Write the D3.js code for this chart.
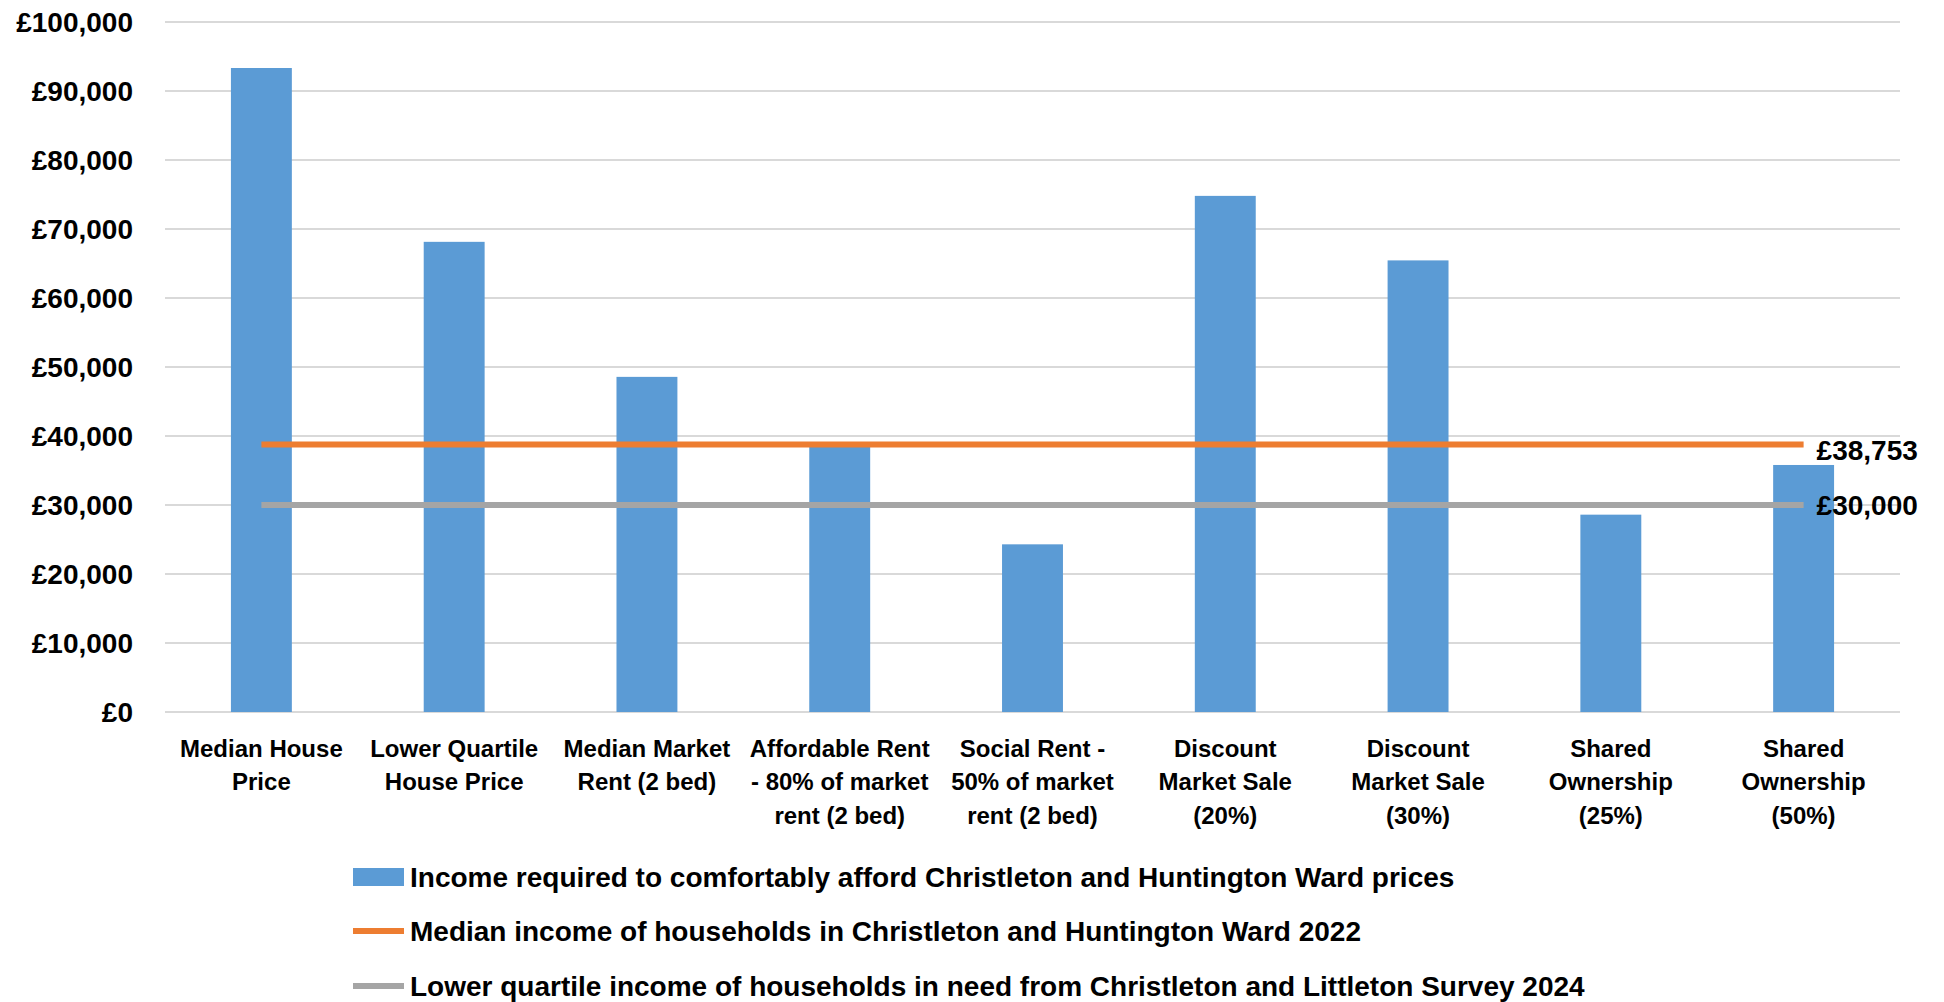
<!DOCTYPE html>
<html>
<head>
<meta charset="utf-8">
<script src="https://cdn.jsdelivr.net/npm/d3@7"></script>
<style>
  body { margin: 0; background: #fff; }
  svg { display: block; font-family: "Liberation Sans", Arial, sans-serif; font-weight: bold; }
</style>
</head>
<body>
<svg id="canvas"></svg>
<script>
// categories, each one split into the lines shown under the axis
const categories = [
  ['Median House', 'Price'],
  ['Lower Quartile', 'House Price'],
  ['Median Market', 'Rent (2 bed)'],
  ['Affordable Rent', '- 80% of market', 'rent (2 bed)'],
  ['Social Rent -', '50% of market', 'rent (2 bed)'],
  ['Discount', 'Market Sale', '(20%)'],
  ['Discount', 'Market Sale', '(30%)'],
  ['Shared', 'Ownership', '(25%)'],
  ['Shared', 'Ownership', '(50%)']
];

// income required (bars)
const incomeRequired = [93333, 68140, 48570, 38856, 24300, 74800, 65450, 28600, 35800];

// reference incomes (flat lines)
const medianIncome = 38753;
const lowerQuartileIncome = 30000;

const yTicks = [0, 10000, 20000, 30000, 40000, 50000, 60000, 70000, 80000, 90000, 100000];

const legendLabels = [
  'Income required to comfortably afford Christleton and Huntington Ward prices',
  'Median income of households in Christleton and Huntington Ward 2022',
  'Lower quartile income of households in need from Christleton and Littleton Survey 2024'
];

const width = 1944;
const height = 1002;
const margin = { left: 165, right: 44, top: 22, bottom: 290 };

const svg = d3.select('#canvas')
  .attr('width', width)
  .attr('height', height);

const x = d3.scaleBand()
  .domain(d3.range(categories.length))
  .range([margin.left, width - margin.right])
  .paddingInner(0.684)
  .paddingOuter(0.342);

const y = d3.scaleLinear()
  .domain([0, 100000])
  .range([height - margin.bottom, margin.top]);

const pound = d => '£' + d3.format(',')(d);

// gridlines
svg.append('g')
  .selectAll('line')
  .data(yTicks)
  .enter()
  .append('line')
  .attr('x1', margin.left)
  .attr('x2', width - margin.right)
  .attr('y1', d => y(d))
  .attr('y2', d => y(d))
  .attr('stroke', '#d9d9d9')
  .attr('stroke-width', 2);

// y axis labels
svg.append('g')
  .selectAll('text')
  .data(yTicks)
  .enter()
  .append('text')
  .attr('x', 133)
  .attr('y', d => y(d))
  .attr('dy', '0.36em')
  .attr('text-anchor', 'end')
  .attr('font-size', 28)
  .attr('fill', '#000')
  .text(pound);

// bars
svg.append('g')
  .selectAll('rect')
  .data(incomeRequired)
  .enter()
  .append('rect')
  .attr('x', (d, i) => x(i))
  .attr('y', d => y(d))
  .attr('width', x.bandwidth())
  .attr('height', d => y(0) - y(d))
  .attr('fill', '#5b9bd5');

// flat reference lines, centre of first to centre of last category
const firstX = x(0) + x.bandwidth() / 2;
const lastX = x(categories.length - 1) + x.bandwidth() / 2;

const refLines = [
  { value: lowerQuartileIncome, color: '#a5a5a5', dy: 0 },
  { value: medianIncome, color: '#ed7d31', dy: 5 }
];

refLines.forEach(r => {
  svg.append('line')
    .attr('x1', firstX)
    .attr('x2', lastX)
    .attr('y1', y(r.value))
    .attr('y2', y(r.value))
    .attr('stroke', r.color)
    .attr('stroke-width', 6);
});

refLines.forEach(r => {
  svg.append('text')
    .attr('x', lastX + 13)
    .attr('y', y(r.value) + r.dy)
    .attr('dy', '0.36em')
    .attr('font-size', 28)
    .attr('fill', '#000')
    .text(pound(r.value));
});

// category labels
const catG = svg.append('g')
  .selectAll('text')
  .data(categories)
  .enter()
  .append('text')
  .attr('text-anchor', 'middle')
  .attr('font-size', 24)
  .attr('fill', '#000');

catG.selectAll('tspan')
  .data((d, i) => d.map(line => ({ line, i })))
  .enter()
  .append('tspan')
  .attr('x', d => x(d.i) + x.bandwidth() / 2)
  .attr('y', (d, j) => 748 + j * 33.5)
  .attr('dy', '0.36em')
  .text(d => d.line);

// legend
const legendY = [877, 931, 986];
const swatchX = 353;
const swatchW = 51;

svg.append('rect')
  .attr('x', swatchX)
  .attr('y', legendY[0] - 9)
  .attr('width', swatchW)
  .attr('height', 18)
  .attr('fill', '#5b9bd5');

[['#ed7d31', 1], ['#a5a5a5', 2]].forEach(([c, k]) => {
  svg.append('line')
    .attr('x1', swatchX)
    .attr('x2', swatchX + swatchW)
    .attr('y1', legendY[k])
    .attr('y2', legendY[k])
    .attr('stroke', c)
    .attr('stroke-width', 6);
});

svg.append('g')
  .selectAll('text')
  .data(legendLabels)
  .enter()
  .append('text')
  .attr('x', swatchX + swatchW + 6)
  .attr('y', (d, i) => legendY[i])
  .attr('dy', '0.36em')
  .attr('font-size', 28)
  .attr('fill', '#000')
  .text(d => d);
</script>
</body>
</html>
